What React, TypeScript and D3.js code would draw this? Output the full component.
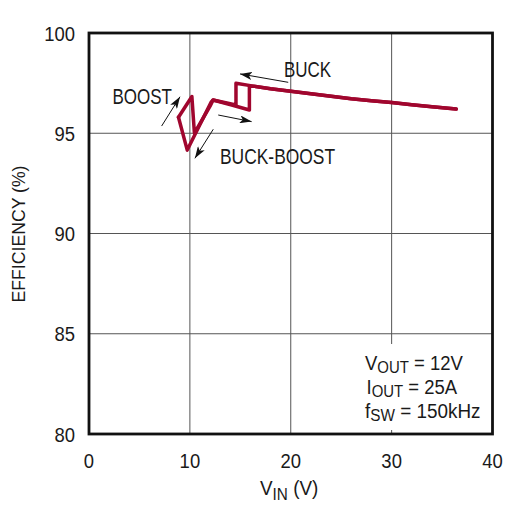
import React from "react";
import * as d3 from "d3";

// ---- data ----
const X_TICKS = [0, 10, 20, 30, 40];
const Y_TICKS = [80, 85, 90, 95, 100];

// buck-mode section (shared by both sweeps)
const buckVin = [16.3, 18, 20, 22, 24, 26, 28, 30, 32, 34, 36.4];
const buckEff = [97.35, 97.22, 97.1, 96.97, 96.85, 96.72, 96.62, 96.53, 96.42, 96.32, 96.21];

// rising VIN sweep: boost -> buck-boost -> buck
const upVin = [8.87, 10.2, 10.45, 12.0, 12.3, 14.15, 15.9, 15.9];
const upEff = [95.8, 96.83, 95.0, 96.35, 96.66, 96.41, 96.16, 97.34];

// falling VIN sweep: buck -> buck-boost -> boost
const downVin = [14.57, 14.57, 12.3, 12.1, 9.74, 8.87];
const downEff = [97.49, 96.41, 96.66, 96.55, 94.16, 95.8];

// annotation arrows [x1, y1, x2, y2] in data units (tail -> tip)
const arrows: [number, number, number, number][] = [
  [7.2, 95.36, 9.02, 96.82],
  [12.32, 95.2, 10.5, 93.75],
  [12.81, 95.91, 16.12, 95.58],
  [19.75, 97.54, 14.97, 97.96],
];

const W = 516;
const H = 514;
const FONT = "'Liberation Sans', Arial, Helvetica, sans-serif";
const RED = "#A0062E";

const x = d3.scaleLinear().domain([0, 40]).range([89, 492.5]);
const y = d3.scaleLinear().domain([80, 100]).range([434, 33]);

type TP = {
  x: number;
  y: number;
  size: number;
  sx?: number;
  anchor?: "start" | "middle" | "end";
  rotate?: number;
  children: React.ReactNode;
};
function T({ x, y, size, sx = 0.85, anchor = "start", rotate, children }: TP) {
  const tr = `translate(${x},${y})${rotate ? ` rotate(${rotate})` : ""} scale(${sx},1)`;
  return (
    <text transform={tr} fontSize={size} textAnchor={anchor} fill="#1a1a1a" fontFamily={FONT}>
      {children}
    </text>
  );
}

export default function App() {
  const line = d3
    .line<[number, number]>()
    .x((d) => x(d[0]))
    .y((d) => y(d[1]));

  const up: [number, number][] = [
    ...upVin.map((v, i) => [v, upEff[i]] as [number, number]),
    ...buckVin.map((v, i) => [v, buckEff[i]] as [number, number]),
  ];
  const down: [number, number][] = [
    ...buckVin.map((v, i) => [v, buckEff[i]] as [number, number]).reverse(),
    ...downVin.map((v, i) => [v, downEff[i]] as [number, number]),
  ];

  const [x0, x1] = x.range();
  const [y0, y1] = y.range();

  return (
    <svg
      width={W}
      height={H}
      style={{ position: "absolute", left: 0, top: 0, background: "#fff" }}
    >
      <defs>
        <marker
          id="ah"
          markerUnits="userSpaceOnUse"
          markerWidth={13}
          markerHeight={8}
          refX={12}
          refY={4}
          orient="auto"
        >
          <path d="M0,0 L12,4 L0,8 L3,4 Z" fill="#111" />
        </marker>
      </defs>

      {/* grid */}
      {X_TICKS.slice(1, -1).map((t) => (
        <line key={"gx" + t} x1={x(t)} x2={x(t)} y1={y1} y2={y0} stroke="#555" strokeWidth={1} />
      ))}
      {Y_TICKS.slice(1, -1).map((t) => (
        <line key={"gy" + t} x1={x0} x2={x1} y1={y(t)} y2={y(t)} stroke="#555" strokeWidth={1} />
      ))}

      {/* legend box background */}
      <rect x={357} y={344} width={132} height={86} fill="#fff" />

      {/* curves */}
      <path d={line(up) || ""} fill="none" stroke={RED} strokeWidth={3.5} strokeLinejoin="round" strokeLinecap="round" />
      <path d={line(down) || ""} fill="none" stroke={RED} strokeWidth={3.5} strokeLinejoin="round" strokeLinecap="round" />

      {/* arrows */}
      {arrows.map((a, i) => (
        <line
          key={"a" + i}
          x1={x(a[0])}
          y1={y(a[1])}
          x2={x(a[2])}
          y2={y(a[3])}
          stroke="#111"
          strokeWidth={1}
          markerEnd="url(#ah)"
        />
      ))}

      {/* frame */}
      <rect x={x0} y={y1} width={x1 - x0} height={y0 - y1} fill="none" stroke="#111" strokeWidth={2.8} />

      {/* tick labels */}
      {Y_TICKS.map((t) => (
        <T key={"ty" + t} x={75} y={y(t) + 7.5} size={20.5} sx={0.9} anchor="end">
          {t}
        </T>
      ))}
      {X_TICKS.map((t) => (
        <T key={"tx" + t} x={x(t)} y={467.5} size={20.5} sx={0.9} anchor="middle">
          {t}
        </T>
      ))}

      {/* axis titles */}
      <T x={260} y={495} size={21} sx={0.9}>
        V
        <tspan fontSize={17} dy={4.5}>IN</tspan>
        <tspan dy={-4.5}> (V)</tspan>
      </T>
      <T x={25} y={234} size={19} sx={0.93} anchor="middle" rotate={-90}>
        EFFICIENCY (%)
      </T>

      {/* annotations */}
      <T x={112.5} y={104} size={21.5} sx={0.79}>BOOST</T>
      <T x={284} y={77} size={21.5} sx={0.79}>BUCK</T>
      <T x={220} y={163.5} size={21.5} sx={0.81}>BUCK-BOOST</T>

      {/* legend */}
      <T x={365} y={369.5} size={21} sx={0.88}>
        V<tspan fontSize={17} dy={3.4}>OUT</tspan>
        <tspan dy={-3.4}> = 12V</tspan>
      </T>
      <T x={366.5} y={393.5} size={21} sx={0.88}>
        I<tspan fontSize={17} dy={3.4}>OUT</tspan>
        <tspan dy={-3.4}> = 25A</tspan>
      </T>
      <T x={365} y={417.5} size={21} sx={0.9}>
        f<tspan fontSize={17} dy={3.4}>SW</tspan>
        <tspan dy={-3.4}> = 150kHz</tspan>
      </T>
    </svg>
  );
}
